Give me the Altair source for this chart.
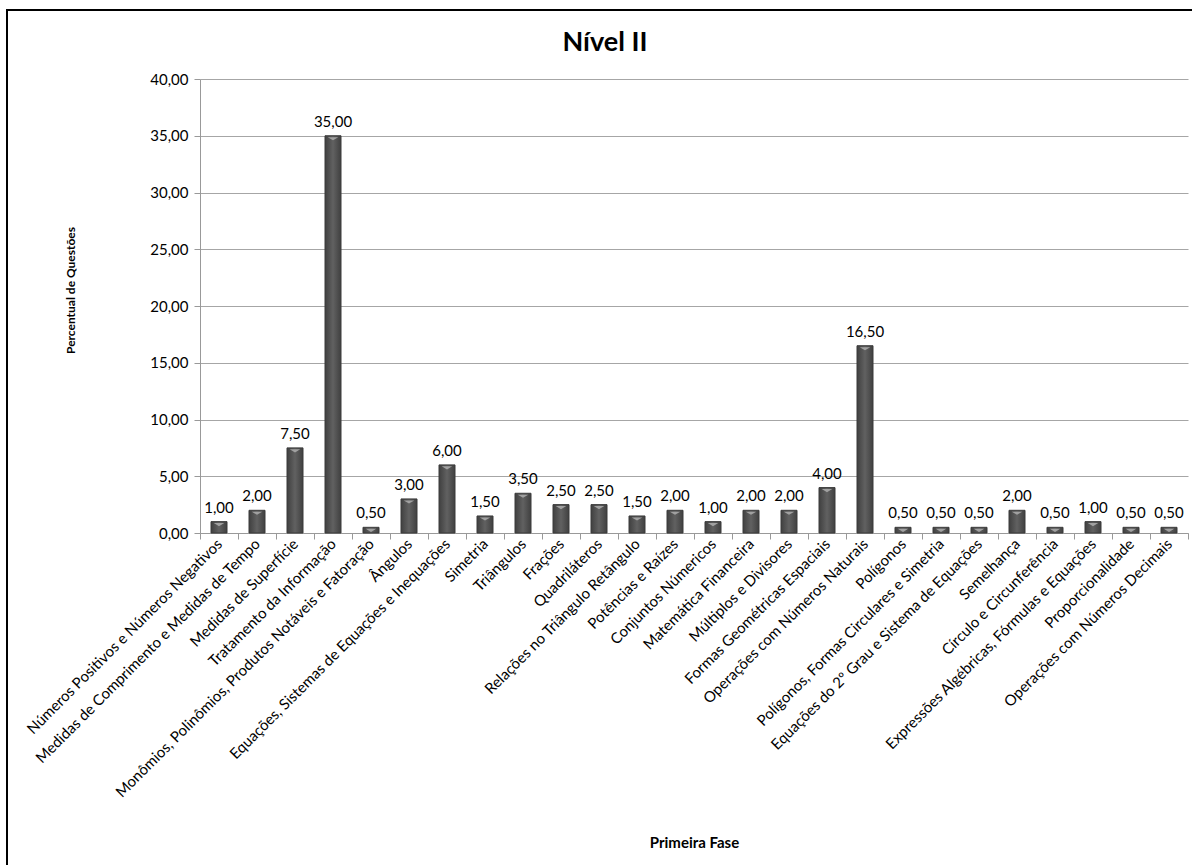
import altair as alt
import pandas as pd

# Topics covered in the first phase (Nível II) and their share of questions (%)
topicos = [
    "Números Positivos e Números Negativos",
    "Medidas de Comprimento e Medidas de Tempo",
    "Medidas de Superfície",
    "Tratamento da Informação",
    "Monômios, Polinômios, Produtos Notáveis e Fatoração",
    "Ângulos",
    "Equações, Sistemas de Equações e Inequações",
    "Simetria",
    "Triângulos",
    "Frações",
    "Quadriláteros",
    "Relações no Triângulo Retângulo",
    "Potências e Raízes",
    "Conjuntos Númericos",
    "Matemática Financeira",
    "Múltiplos e Divisores",
    "Formas Geométricas Espaciais",
    "Operações com Números Naturais",
    "Polígonos",
    "Polígonos, Formas Circulares e Simetria",
    "Equações do 2º Grau e Sistema de Equações",
    "Semelhança",
    "Círculo e Circunferência",
    "Expressões Algébricas, Fórmulas e Equações",
    "Proporcionalidade",
    "Operações com Números Decimais",
]
percentuais = [1.0, 2.0, 7.5, 35.0, 0.5, 3.0, 6.0, 1.5, 3.5, 2.5, 2.5, 1.5, 2.0,
               1.0, 2.0, 2.0, 4.0, 16.5, 0.5, 0.5, 0.5, 2.0, 0.5, 1.0, 0.5, 0.5]
y_ticks = [0, 5, 10, 15, 20, 25, 30, 35, 40]
titulo = "Nível II"

df = pd.DataFrame({"topico": topicos, "pct": percentuais})
df["rotulo"] = [f"{v:.2f}".replace(".", ",") for v in percentuais]

FONT = "Lato"
W, H = 988, 454

x_enc = alt.X(
    "topico:N",
    sort=topicos,
    scale=alt.Scale(paddingInner=0, paddingOuter=0),
    axis=alt.Axis(
        title="Primeira Fase",
        titleFont=FONT, titleFontSize=15, titleFontWeight="bold", titleColor="#000",
        titleY=309, titleBaseline="middle",
        labelAngle=-45, labelAlign="right", labelBaseline="middle",
        labelFont=FONT, labelFontSize=15, labelColor="#000", labelPadding=2,
        labelLimit=0, labelOverlap=False,
        tickBand="extent", ticks=True, tickSize=6, tickColor="#999",
        domainColor="#999", grid=False,
    ),
)
y_scale = alt.Scale(domain=[0, 40], nice=False)

bars = alt.Chart(df).mark_bar(
    size=16,
    stroke="#3a3a3a",
    strokeWidth=1,
    color=alt.Gradient(
        gradient="linear", x1=0, x2=1, y1=0, y2=0,
        stops=[
            alt.GradientStop(color="#404040", offset=0),
            alt.GradientStop(color="#616161", offset=0.5),
            alt.GradientStop(color="#404040", offset=1),
        ],
    ),
).encode(
    x=x_enc,
    y=alt.Y(
        "pct:Q",
        scale=y_scale,
        axis=alt.Axis(
            title="Percentual de Questões",
            titleFont=FONT, titleFontSize=12, titleFontWeight="bold", titleColor="#000",
            titleX=-123, titleY=211, titleAngle=-90, titleAlign="center",
            values=y_ticks,
            labelExpr="replace(format(datum.value, '.2f'), '.', ',')",
            labelFont=FONT, labelFontSize=15, labelColor="#000", labelPadding=6,
            tickSize=6, tickColor="#999", domainColor="#999",
            grid=True, gridColor="#a6a6a6", gridWidth=1,
        ),
    ),
)

# Light bevel at the top of each bar
bevel = alt.Chart(df).mark_point(
    shape="M-1,-0.3L1,-0.3L0,0.3Z", filled=True, fill="#a8a8a8",
    size=110, opacity=0.9, yOffset=3, strokeWidth=0,
).encode(
    x=alt.X("topico:N", sort=topicos),
    y=alt.Y("pct:Q", scale=y_scale),
)

labels = alt.Chart(df).mark_text(
    font=FONT, fontSize=15, color="#000", baseline="bottom", dy=-6
).encode(
    x=alt.X("topico:N", sort=topicos),
    y=alt.Y("pct:Q", scale=y_scale),
    text="rotulo:N",
)

# Chart heading drawn inside the frame
heading = alt.Chart(pd.DataFrame({"t": [titulo]})).mark_text(
    font=FONT, fontSize=27, fontWeight="bold", color="#000", baseline="middle"
).encode(
    x=alt.value(405), y=alt.value(-36), text="t:N",
)

# Outer frame around the whole figure
frame = alt.Chart(pd.DataFrame({"k": [0]})).mark_rect(
    fill=None, stroke="#000", strokeWidth=2
).encode(
    x=alt.value(-193), x2=alt.value(W + 20),
    y=alt.value(-69), y2=alt.value(H + 360),
)

chart = alt.layer(frame, bars, bevel, labels, heading).properties(
    width=W,
    height=H,
    autosize=alt.AutoSizeParams(type="none"),
    padding={"left": 200, "top": 79, "right": 4, "bottom": 332},
    background="white",
).configure_view(stroke=None)

chart.save("out.html", embed_options={"renderer": "svg", "actions": False})
